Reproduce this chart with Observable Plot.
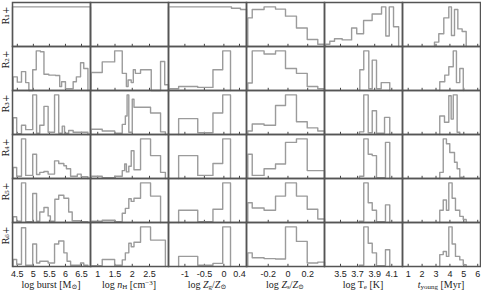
<!DOCTYPE html>
<html><head><meta charset="utf-8">
<script src="https://cdn.jsdelivr.net/npm/d3@7"></script>
<script src="https://cdn.jsdelivr.net/npm/@observablehq/plot@0.6"></script>
<style>
body{margin:0;background:#fff;}
#wrap{position:relative;width:481px;height:292px;overflow:hidden;background:#fff;}
#wrap svg{position:absolute;top:0;overflow:visible;}
.xt{position:absolute;top:280px;width:78px;text-align:center;font:10px "Liberation Serif","DejaVu Serif",serif;color:#222;line-height:10px;white-space:nowrap;}
.xt .sb{font-size:7px;position:relative;top:1px;}
.xt .sp{font-size:7px;position:relative;top:-3px;}
</style></head><body><div id="wrap"></div><script>
const rowLabels = ["R₁+","R₂+","R₃+","R₄+","R₅+","R₆+"];

const burstEdges = [
 [4.35,6.78],
 [4.37,4.50,4.63,4.76,4.86,4.98,5.09,5.22,5.33,5.48,5.69,5.82,5.88,6.00,6.24,6.34,6.47,6.57,6.70],
 [4.37,4.48,4.63,4.76,4.98,5.10,5.20,5.33,5.46,5.66,5.79,5.90,5.97,6.10,6.24,6.70],
 [4.37,4.48,4.63,4.76,4.98,5.10,5.20,5.33,5.46,5.66,5.79,5.95,6.03,6.16,6.37,6.49,6.70],
 [4.37,4.48,4.63,4.76,4.98,5.10,5.20,5.33,5.46,5.53,5.67,5.79,5.95,6.10,6.21,6.47,6.70],
 [4.37,4.48,4.63,4.76,4.98,5.10,5.20,5.46,5.66,5.79,5.95,6.05,6.16,6.47,6.57,6.70]
];
const burstCounts = [
 [0.90],
 [0.31,0.19,0.43,0.18,0.00,0.47,0.90,0.88,0.37,0.35,0.34,0.09,0.20,0.04,0.20,0.31,0.63,0.50],
 [0.38,0.02,0.21,0.11,0.90,0.03,0.21,0.64,0.05,0.90,0.03,0.19,0.03,0.09,0.05],
 [0.25,0.05,0.90,0.07,0.55,0.09,0.14,0.16,0.10,0.40,0.34,0.29,0.22,0.05,0.10,0.04],
 [0.13,0.03,0.90,0.02,0.66,0.03,0.24,0.34,0.15,0.03,0.53,0.62,0.55,0.24,0.04,0.02],
 [0.16,0.05,0.88,0.03,0.51,0.08,0.12,0.08,0.51,0.58,0.31,0.12,0.03,0.08,0.03]
];

const nhEdges = [
 [],
 [0.81,1.13,1.49,1.71,1.83,1.88,1.97,2.03,2.09,2.24,2.55,2.82,2.94,3.05],
 [0.81,1.13,1.49,1.71,1.80,1.85,1.90,2.00,2.05,2.53,2.82,2.96],
 [0.81,1.13,1.49,1.71,1.78,1.83,1.90,1.97,2.05,2.24,2.53,2.82,2.96],
 [0.81,1.13,1.49,1.71,1.80,1.90,1.97,2.05,2.24,2.53,2.82],
 [0.81,1.13,1.49,1.71,1.80,1.90,1.97,2.05,2.24,2.53,2.96]
];
const nhCounts = [
 [],
 [0.41,0.65,0.90,0.39,0.09,0.24,0.18,0.47,0.39,0.47,0.00,0.66,0.13],
 [0.12,0.08,0.03,0.23,0.42,0.90,0.05,0.80,0.62,0.49,0.06],
 [0.05,0.02,0.05,0.18,0.33,0.15,0.28,0.63,0.20,0.90,0.52,0.14],
 [0.03,0.05,0.02,0.21,0.32,0.54,0.48,0.55,0.90,0.60],
 [0.02,0.16,0.03,0.15,0.31,0.53,0.45,0.55,0.90,0.60]
];

const zgEdges = [
 [-1.42,0.195,0.426,0.58],
 [-1.41,-1.16,-0.67,-0.28,-0.03,0.17],
 [-1.16,-0.67,-0.28,-0.03,0.17],
 [-1.16,-0.67,-0.28,-0.03,0.17],
 [-1.16,-0.67,-0.28,-0.03,0.17],
 [-1.16,-0.67,-0.28,-0.03,0.17]
];
const zgCounts = [
 [0.90,0.87,0.84],
 [0.04,0.09,0.07,0.47,0.90],
 [0.36,0.04,0.49,0.90],
 [0.52,0.07,0.34,0.90],
 [0.28,0.02,0.30,0.90],
 [0.23,0.03,0.07,0.90]
];

const zsBins = [-0.407,-0.362,-0.242,-0.126,-0.025,0.086,0.195,0.302,0.37];
const zsCounts = [
 [0.65,0.84,0.90,0.85,0.69,0.42,0.16,0.05],
 [0.17,0.90,0.83,0.90,0.50,0.39,0.09,0.04],
 [0.08,0.24,0.21,0.66,0.90,0.29,0.15,0.08],
 [0.55,0.07,0.22,0.33,0.82,0.90,0.18,0.18],
 [0.45,0.33,0.28,0.60,0.90,0.60,0.30,0.08],
 [0.31,0.20,0.18,0.17,0.90,0.57,0.08,0.10]
];

const teEdges = [
 [3.325,3.375,3.43,3.52,3.63,3.69,3.77,3.87,3.98,4.03,4.07,4.12,4.18],
 [3.726,3.772,3.831,3.871,3.921,3.976,4.076],
 [3.722,3.772,3.824,3.871,3.921,4.015,4.076],
 [3.722,3.772,3.824,3.871,3.921,4.026,4.076],
 [3.722,3.772,3.824,3.871,3.921,4.026,4.076],
 [3.722,3.772,3.824,3.871,3.921,4.026,4.076]
];
const teCounts = [
 [0.05,0.12,0.175,0.15,0.42,0.29,0.59,0.74,0.90,0.24,0.90,0.45],
 [0.47,0.90,0.04,0.69,0.04,0.18],
 [0.06,0.90,0.04,0.54,0.03,0.39],
 [0.05,0.90,0.55,0.52,0.02,0.82],
 [0.03,0.90,0.45,0.28,0.02,0.40],
 [0.03,0.90,0.53,0.31,0.02,0.38]
];

const tyEdges = [
 [2.89,3.20,3.56,3.92,4.11,4.33,4.57,4.88,5.17],
 [3.27,3.63,3.92,4.24,4.47,4.71,4.96],
 [3.27,3.61,3.92,4.09,4.24,4.52,4.71],
 [3.27,3.52,3.75,3.99,4.33,4.52,4.71,4.96],
 [3.27,3.52,3.75,3.92,4.16,4.40,4.71,4.96,5.17],
 [3.27,3.52,3.75,3.92,4.16,4.40,4.71,4.96,5.17]
];
const tyCounts = [
 [0.10,0.29,0.65,0.90,0.25,0.84,0.40,0.34],
 [0.20,0.35,0.54,0.90,0.18,0.50],
 [0.42,0.28,0.88,0.35,0.90,0.05],
 [0.14,0.90,0.79,0.59,0.37,0.22,0.03],
 [0.28,0.51,0.28,0.90,0.55,0.28,0.14,0.07],
 [0.27,0.34,0.23,0.90,0.51,0.23,0.15,0.04]
];

const burstTicks = [4.5,5,5.5,6,6.5];
const nhTicks = [1,1.5,2,2.5];
const zgTicks = [-1,-0.5,0,0.4];
const zsTicks = [-0.2,0,0.2];
const teTicks = [3.5,3.7,3.9,4.1];
const tyTicks = [1,2,3,4,5,6];

const columns = [
 {edges: burstEdges, counts: burstCounts, ticks: burstTicks, domain: [4.35, 6.78], title: 'log burst [M<span class="sb">⊙</span>]'},
 {edges: nhEdges, counts: nhCounts, ticks: nhTicks, domain: [0.79, 3.05], title: 'log <i>n</i><span class="sb">H</span> [cm<span class="sp">−3</span>]'},
 {edges: zgEdges, counts: zgCounts, ticks: zgTicks, domain: [-1.42, 0.58], title: 'log <i>Z</i><span class="sb">g</span>/<i>Z</i><span class="sb">⊙</span>'},
 {edges: zsCounts.map(() => zsBins), counts: zsCounts, ticks: zsTicks, domain: [-0.42, 0.37], title: 'log <i>Z</i><span class="sb">s</span>/<i>Z</i><span class="sb">⊙</span>'},
 {edges: teEdges, counts: teCounts, ticks: teTicks, domain: [3.313, 4.225], title: 'log T<span class="sb">e</span> [K]'},
 {edges: tyEdges, counts: tyCounts, ticks: tyTicks, domain: [0.59, 6.2], title: '<i>t</i><span class="sb">young</span> [Myr]'}
];

const wrap = document.getElementById("wrap");
const rowsIdx = [1,2,3,4,5,6];

columns.forEach((c, ci) => {
  const pts = [];
  c.edges.forEach((e, r) => {
    const h = c.counts[r];
    if (!e.length) return;
    pts.push({row: r + 1, x: e[0], y: 0});
    h.forEach((v, i) => pts.push({row: r + 1, x: e[i], y: v}));
    pts.push({row: r + 1, x: e[e.length - 1], y: h[h.length - 1]});
    pts.push({row: r + 1, x: e[e.length - 1], y: 0});
  });
  const tickData = rowsIdx.flatMap(row => c.ticks.map(x => ({row, x})));
  const first = ci === 0;
  const marks = [
    Plot.ruleX(tickData, {x: "x", fy: "row", y1: 0, y2: 0.05, stroke: "#444", strokeWidth: 1}),
    Plot.line(pts, {x: "x", y: "y", fy: "row", z: "row", curve: "step-after", stroke: "#9b9b9b", strokeWidth: 1.4}),
    Plot.frame({stroke: "#555", strokeWidth: 1.5})
  ];
  if (first) {
    marks.push(Plot.text(rowLabels, {fy: (d, i) => i + 1, text: d => d, frameAnchor: "left", dx: -6, rotate: -90,
      fontFamily: '"DejaVu Serif",serif', fontSize: 9, fill: "#222"}));
  }
  const svg = Plot.plot({
    width: first ? 90 : 78, height: 282,
    marginLeft: first ? 12 : 0, marginRight: 0, marginTop: 0, marginBottom: 15,
    x: {domain: c.domain, ticks: c.ticks, tickSize: 0, tickPadding: 4, tickFormat: d => String(d), label: null},
    y: {domain: [0, 1], axis: null},
    fy: {domain: rowsIdx, padding: 0, axis: null},
    style: {fontSize: "9px", fontFamily: '"Liberation Sans", Arial, sans-serif', color: "#222", background: "transparent", overflow: "visible"},
    marks
  });
  svg.style.left = (first ? 0 : 12 + 78 * ci) + "px";
  wrap.appendChild(svg);
  const t = document.createElement("div");
  t.className = "xt";
  t.style.left = (12 + 78 * ci) + "px";
  t.innerHTML = c.title;
  wrap.appendChild(t);
});
</script></body></html>
